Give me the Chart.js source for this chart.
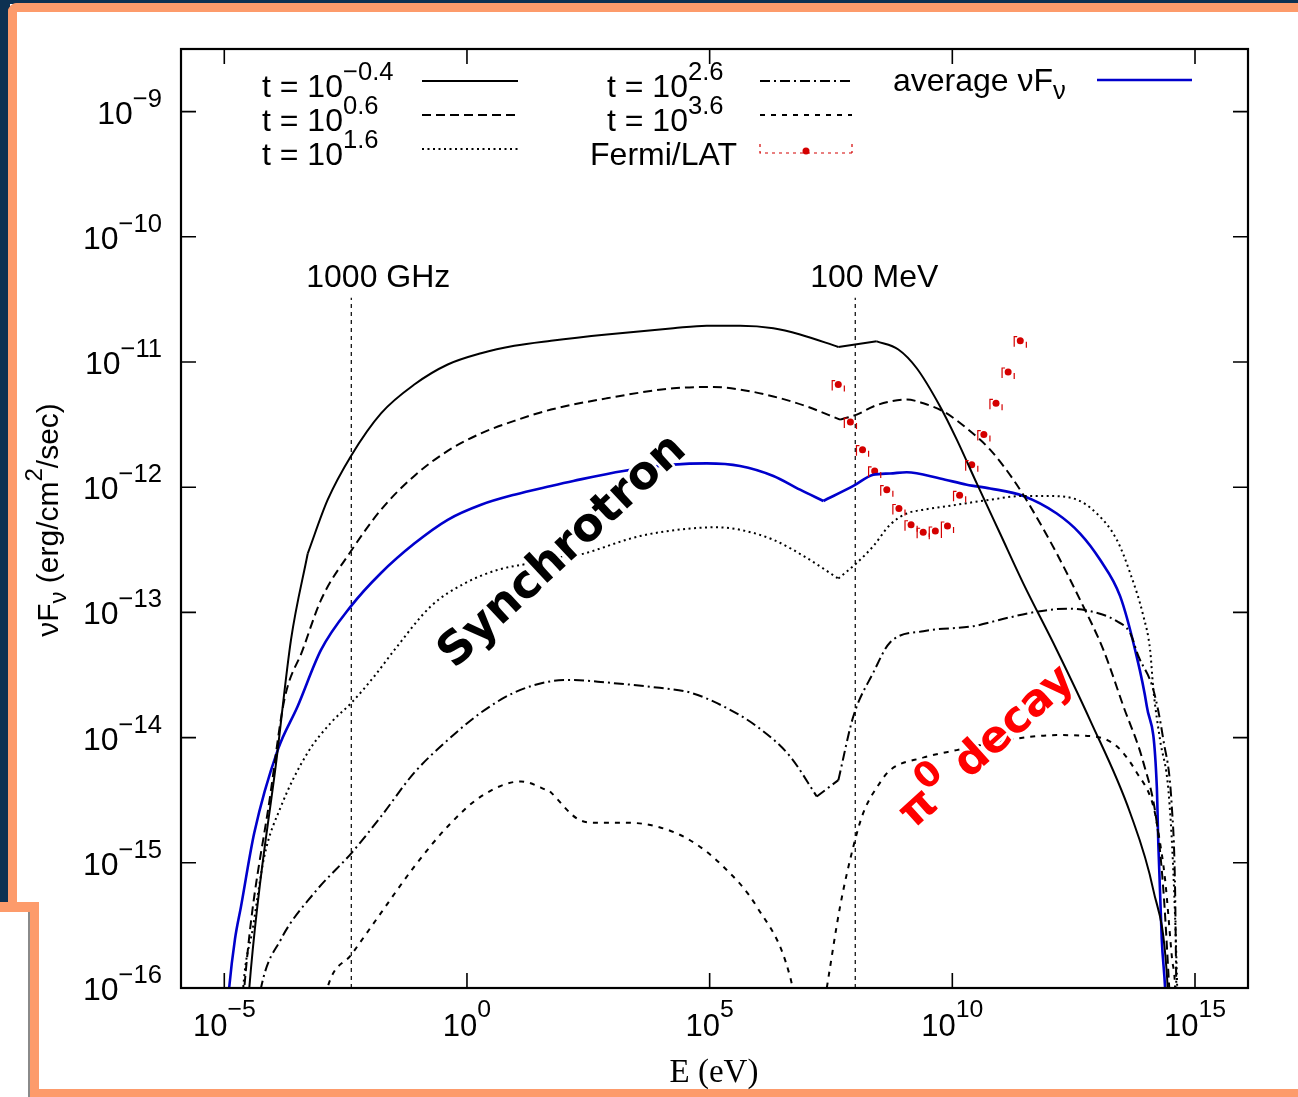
<!DOCTYPE html>
<html lang="en">
<head>
<meta charset="UTF-8" />
<title>nuFnu spectra</title>
<script src="https://cdn.jsdelivr.net/npm/chart.js@4.4.1/dist/chart.umd.min.js"></script>
<style>
    html, body { margin: 0; padding: 0; background: #fff; }
    body { width: 1298px; height: 1097px; position: relative; overflow: hidden; }
    .deco { position: absolute; }
    #sed { position: absolute; left: 0; top: 0; }
</style>
</head>
<body>
    <!-- page frame -->
    <div class="deco" style="left:0;top:0;width:1298px;height:4px;background:#0d3152"></div>
    <div class="deco" style="left:0;top:0;width:10px;height:903px;background:#0d3152"></div>
    <div class="deco" style="left:8px;top:3px;width:1400px;height:899px;border-left:9px solid #fd9b6b;border-top:9px solid #fd9b6b;border-top-left-radius:9px;box-sizing:border-box"></div>
    <div class="deco" style="left:0;top:902px;width:39px;height:10px;background:#fd9b6b;border-top-right-radius:5px"></div>
    <div class="deco" style="left:30px;top:902px;width:9px;height:200px;background:#fd9b6b"></div>
    <div class="deco" style="left:28px;top:912px;width:2px;height:190px;background:#8a8a8a"></div>
    <div class="deco" style="left:30px;top:1089px;width:1300px;height:10px;background:#fd9b6b"></div>

    <canvas id="sed" width="1298" height="1097"></canvas>

<script>
// all curves are [log10(E / eV), log10(nuFnu / erg cm^-2 s^-1)]
const t_m04 = [[-4.55,-16.4],[-4.485,-16.0],[-3.90,-14.10],[-3.626,-13.22],[-3.281,-12.53],[-2.869,-12.10],[-2.389,-11.75],[-1.771,-11.41],[-1.085,-11.18],[-0.397,-11.02],[0.29,-10.93],[0.976,-10.87],[1.732,-10.83],[2.88,-10.78],[4.252,-10.73],[4.94,-10.71],[5.626,-10.71],[6.313,-10.73],[6.863,-10.78],[7.652,-10.88],[8.443,-10.835],[8.888,-10.90],[9.267,-11.05],[9.748,-11.355],[10.092,-11.62],[10.504,-11.97],[10.984,-12.37],[11.464,-12.77],[12.152,-13.30],[12.838,-13.86],[13.663,-14.60],[14.143,-15.22],[14.419,-15.88],[14.47,-16.3]];
const t_06 = [[-4.62,-16.2],[-4.588,-16.0],[-4.038,-14.42],[-3.764,-13.70],[-3.385,-13.30],[-3.007,-12.90],[-2.389,-12.51],[-1.771,-12.18],[-1.085,-11.91],[-0.397,-11.71],[0.29,-11.57],[0.976,-11.47],[1.732,-11.38],[2.88,-11.29],[4.252,-11.21],[5.076,-11.20],[5.626,-11.22],[6.313,-11.275],[7.001,-11.355],[7.687,-11.46],[8.031,-11.42],[8.373,-11.355],[8.717,-11.315],[9.061,-11.30],[9.403,-11.33],[9.816,-11.395],[10.298,-11.53],[10.778,-11.70],[11.258,-11.94],[11.602,-12.15],[12.152,-12.53],[12.633,-12.90],[13.113,-13.30],[13.525,-13.75],[13.937,-14.20],[14.213,-14.68],[14.349,-15.22],[14.452,-15.88],[14.51,-16.3]];
const t_16 = [[-4.65,-16.3],[-4.61,-16.0],[-4.415,-15.53],[-4.176,-14.95],[-3.832,-14.55],[-3.281,-14.12],[-2.801,-13.88],[-2.375,-13.72],[-1.909,-13.51],[-1.495,-13.30],[-0.741,-12.95],[-0.055,-12.77],[0.634,-12.66],[1.32,-12.605],[1.732,-12.565],[2.191,-12.55],[3.566,-12.39],[4.596,-12.33],[5.146,-12.32],[5.626,-12.34],[6.313,-12.42],[7.001,-12.565],[7.652,-12.73],[8.031,-12.605],[8.373,-12.47],[8.717,-12.30],[9.061,-12.21],[9.403,-12.18],[10.092,-12.14],[10.778,-12.10],[11.464,-12.07],[11.946,-12.07],[12.494,-12.09],[12.976,-12.21],[13.389,-12.42],[13.663,-12.685],[13.937,-13.03],[14.075,-13.30],[14.143,-13.62],[14.281,-14.02],[14.452,-14.42],[14.555,-15.08],[14.625,-15.88],[14.65,-16.3]];
const t_26 = [[-4.31,-16.18],[-4.244,-16.0],[-3.832,-15.61],[-3.145,-15.24],[-2.375,-14.92],[-1.771,-14.63],[-1.085,-14.28],[-0.397,-14.02],[0.29,-13.80],[0.976,-13.64],[1.732,-13.55],[2.191,-13.54],[2.88,-13.56],[3.91,-13.60],[4.596,-13.64],[5.282,-13.75],[5.97,-13.91],[6.657,-14.15],[7.207,-14.47],[7.652,-14.34],[7.961,-13.83],[8.373,-13.48],[8.717,-13.24],[9.403,-13.15],[10.434,-13.11],[11.122,-13.045],[11.808,-12.99],[12.358,-12.97],[12.838,-12.99],[13.389,-13.07],[13.663,-13.165],[13.834,-13.35],[14.143,-13.62],[14.349,-14.02],[14.522,-14.55],[14.59,-15.22],[14.611,-15.88],[14.63,-16.3]];
const t_36 = [[-2.95,-16.15],[-2.869,-15.99],[-2.375,-15.73],[-1.771,-15.40],[-1.085,-15.03],[-0.397,-14.71],[0.29,-14.47],[1.114,-14.35],[1.711,-14.43],[2.329,-14.66],[2.674,-14.68],[3.292,-14.68],[3.91,-14.71],[4.596,-14.82],[5.282,-15.03],[5.97,-15.35],[6.657,-15.91],[6.78,-16.17],[7.0,-17.0],[7.337,-16.18],[7.413,-16.0],[7.687,-15.35],[7.961,-14.87],[8.167,-14.60],[8.511,-14.36],[8.717,-14.26],[9.403,-14.16],[10.092,-14.10],[11.122,-14.02],[12.152,-13.98],[12.907,-13.99],[13.389,-14.07],[13.801,-14.28],[14.143,-14.55],[14.246,-14.76],[14.384,-15.135],[14.528,-15.77],[14.59,-16.0],[14.61,-16.3]];
const avgSed = [[-4.934,-16.18],[-4.897,-15.99],[-4.78,-15.61],[-4.656,-15.35],[-4.382,-14.76],[-3.90,-14.10],[-3.488,-13.75],[-3.007,-13.30],[-2.389,-12.95],[-1.771,-12.685],[-1.085,-12.45],[-0.397,-12.26],[0.29,-12.14],[0.976,-12.06],[1.732,-11.99],[2.191,-11.95],[3.222,-11.87],[4.252,-11.82],[4.94,-11.81],[5.626,-11.83],[6.313,-11.91],[6.863,-12.02],[7.343,-12.11],[7.961,-11.99],[8.373,-11.90],[8.717,-11.89],[9.061,-11.88],[9.748,-11.93],[10.298,-11.98],[10.778,-12.01],[11.464,-12.07],[12.152,-12.21],[12.633,-12.37],[13.045,-12.58],[13.457,-12.87],[13.766,-13.30],[14.007,-13.75],[14.213,-14.39],[14.246,-14.87],[14.315,-15.61],[14.384,-16.0],[14.405,-16.2]];

// Fermi/LAT bins
const latLogE = [7.65, 7.90, 8.15, 8.40, 8.65, 8.90, 9.15, 9.40, 9.65, 9.90, 10.15, 10.40, 10.65, 10.90, 11.15, 11.40];
const latLogF = [-11.18, -11.48, -11.70, -11.87, -12.02, -12.17, -12.30, -12.36, -12.35, -12.31, -12.065, -11.82, -11.58, -11.33, -11.08, -10.83];
const latHalfBin = 0.125;

// reference energies: 1000 GHz and 100 MeV
const markerLogE = [-2.3835, 8.0];
const markerLabels = ['1000 GHz', '100 MeV'];
const markerTopLogF = -10.486;

// axes
const xRangeExp = [-5.892, 16.092];
const yRangeExp = [-16, -8.5];
const xTickExp = [-5, 0, 5, 10, 15];
const yTickExp = [-16, -15, -14, -13, -12, -11, -10, -9];

const FONT = "'Liberation Sans', Arial, sans-serif";
const pts = arr => arr.map(([lx, ly]) => ({ x: 10 ** lx, y: 10 ** ly }));

// corners: indices where the spectrum has a sharp break (kept unsmoothed)
const curves = [
    { name: 't_m04', data: t_m04, color: '#000', width: 2, dash: [], corners: [4, 19, 20], label: [['t = 10', ''], ['\u22120.4', '^']] },
    { name: 't_06', data: t_06, color: '#000', width: 2, dash: [9, 5], corners: [19], label: [['t = 10', ''], ['0.6', '^']] },
    { name: 't_16', data: t_16, color: '#000', width: 2, dash: [2, 3.5], corners: [22], label: [['t = 10', ''], ['1.6', '^']] },
    { name: 't_26', data: t_26, color: '#000', width: 2, dash: [10, 4, 2, 4], corners: [18, 19], label: [['t = 10', ''], ['2.6', '^']] },
    { name: 't_36', data: t_36, color: '#000', width: 2, dash: [5, 6], corners: [8], label: [['t = 10', ''], ['3.6', '^']] },
    { name: 'avg', data: avgSed, color: '#0000cc', width: 2.6, dash: [], corners: [22], label: [['average \u03bdF', ''], ['\u03bd', '_']] }
];

const datasets = [];
curves.forEach(c => {
    const cuts = [0, ...c.corners, c.data.length - 1];
    for (let k = 0; k < cuts.length - 1; k++) {
        datasets.push({
            label: c.name,
            data: pts(c.data.slice(cuts[k], cuts[k + 1] + 1)),
            borderColor: c.color,
            borderWidth: c.width,
            borderDash: c.dash,
            pointRadius: 0,
            fill: false,
            cubicInterpolationMode: 'monotone'
        });
    }
});

markerLogE.forEach((lx, i) => {
    datasets.push({
        label: markerLabels[i],
        data: pts([[lx, yRangeExp[0]], [lx, markerTopLogF]]),
        borderColor: '#000',
        borderWidth: 1.2,
        borderDash: [4, 4],
        pointRadius: 0
    });
});

datasets.push({
    label: 'Fermi/LAT',
    data: pts(latLogE.map((lx, i) => [lx, latLogF[i]])),
    showLine: false,
    pointRadius: 3.5,
    pointBackgroundColor: '#d40000',
    pointBorderWidth: 0
});

// text with superscript / subscript runs
function richText(ctx, parts, x, y, size, align, family, raise, halo) {
    family = family || FONT;
    raise = raise || 0.53;
    const runs = parts.map(([txt, mode]) => {
        const s = mode ? size * 0.8 : size;
        const f = family.startsWith('bold') ? family.replace('bold', `bold ${s}px`) : `${s}px ${family}`;
        ctx.font = f;
        return { txt, mode, f, w: ctx.measureText(txt).width };
    });
    const total = runs.reduce((a, r) => a + r.w, 0);
    let cx = align === 'right' ? x - total : align === 'center' ? x - total / 2 : x;
    ctx.textAlign = 'left';
    ctx.textBaseline = 'alphabetic';
    runs.forEach(r => {
        ctx.font = r.f;
        const dy = r.mode === '^' ? -size * raise : r.mode === '_' ? size * 0.25 : 0;
        if (halo) ctx.strokeText(r.txt, cx, y + dy);
        ctx.fillText(r.txt, cx, y + dy);
        cx += r.w;
    });
}

const gnuFrame = {
    id: 'gnuFrame',
    afterDatasetsDraw(chart) {
        const { ctx, chartArea: a, scales: { x, y } } = chart;
        ctx.save();

        // Fermi/LAT bin brackets
        const lat = chart.getDatasetMeta(datasets.length - 1);
        ctx.strokeStyle = '#d40000';
        ctx.lineWidth = 1.2;
        lat.data.forEach((p, i) => {
            const xl = x.getPixelForValue(10 ** (latLogE[i] - latHalfBin));
            const xr = x.getPixelForValue(10 ** (latLogE[i] + latHalfBin));
            ctx.beginPath();
            ctx.moveTo(xl + 3, p.y - 4); ctx.lineTo(xl, p.y - 4); ctx.lineTo(xl, p.y + 6);
            ctx.moveTo(xr, p.y + 1); ctx.lineTo(xr, p.y + 7);
            ctx.stroke();
        });

        // border and inward ticks
        ctx.strokeStyle = '#000';
        ctx.lineWidth = 1.6;
        ctx.beginPath();
        xTickExp.forEach(e => {
            const px = x.getPixelForValue(10 ** e);
            ctx.moveTo(px, a.bottom); ctx.lineTo(px, a.bottom - 15);
            ctx.moveTo(px, a.top); ctx.lineTo(px, a.top + 15);
        });
        yTickExp.forEach(e => {
            const py = y.getPixelForValue(10 ** e);
            ctx.moveTo(a.left, py); ctx.lineTo(a.left + 15, py);
            ctx.moveTo(a.right, py); ctx.lineTo(a.right - 15, py);
        });
        ctx.stroke();
        ctx.lineWidth = 2.2;
        ctx.strokeRect(a.left, a.top, a.right - a.left, a.bottom - a.top);
        ctx.restore();
    },
    afterDraw(chart) {
        const { ctx, chartArea: a, scales: { x, y } } = chart;
        ctx.save();
        ctx.fillStyle = '#000';

        // tick labels
        yTickExp.forEach(e => {
            const py = y.getPixelForValue(10 ** e);
            richText(ctx, [['10', ''], [String(e).replace('-', '\u2212'), '^']], 162, py + 12, 32, 'right');
        });
        xTickExp.forEach(e => {
            const px = x.getPixelForValue(10 ** e);
            richText(ctx, [['10', ''], [String(e).replace('-', '\u2212'), '^']], px, a.bottom + 48, 31, 'center', null, 0.62);
        });

        // axis titles
        ctx.font = "33px 'Liberation Serif', 'Times New Roman', serif";
        ctx.textAlign = 'center';
        ctx.textBaseline = 'alphabetic';
        ctx.fillText('E (eV)', 714, 1082);
        ctx.save();
        ctx.translate(58, 520);
        ctx.rotate(-Math.PI / 2);
        richText(ctx, [['\u03bdF', ''], ['\u03bd', '_'], [' (erg/cm', ''], ['2', '^'], ['/sec)', '']], 0, 0, 30, 'center');
        ctx.restore();

        // reference energy labels
        markerLogE.forEach((lx, i) => {
            const px = x.getPixelForValue(10 ** lx);
            ctx.font = `32px ${FONT}`;
            ctx.textAlign = 'center';
            ctx.fillText(markerLabels[i], px + (i === 0 ? 27 : 19), 287);
        });

        // key
        const sample = (c, x0, x1, yy) => {
            ctx.save();
            ctx.strokeStyle = c.color;
            ctx.lineWidth = c.width;
            ctx.setLineDash(c.dash);
            ctx.beginPath(); ctx.moveTo(x0, yy); ctx.lineTo(x1, yy); ctx.stroke();
            ctx.restore();
        };
        const rows = [97, 131, 165];
        [0, 1, 2].forEach(i => {
            richText(ctx, curves[i].label, 262, rows[i], 32, 'left');
            sample(curves[i], 422, 518, rows[i] - 16);
        });
        [3, 4].forEach((ci, r) => {
            richText(ctx, curves[ci].label, 607, rows[r], 32, 'left');
            sample(curves[ci], 760, 852, rows[r] - 16);
        });
        richText(ctx, [['Fermi/LAT', '']], 737, rows[2], 32, 'right');
        ctx.save();
        ctx.strokeStyle = '#d40000';
        ctx.fillStyle = '#d40000';
        ctx.lineWidth = 1.2;
        const ly = rows[2] - 16;
        ctx.setLineDash([3, 4]);
        ctx.beginPath();
        ctx.moveTo(760, ly - 5); ctx.lineTo(760, ly + 4); ctx.lineTo(852, ly + 4);
        ctx.moveTo(852, ly - 5); ctx.lineTo(852, ly + 4);
        ctx.stroke();
        ctx.setLineDash([]);
        ctx.beginPath(); ctx.arc(806, ly + 2, 3.5, 0, Math.PI * 2); ctx.fill();
        ctx.restore();
        richText(ctx, curves[5].label, 893, 91, 32, 'left');
        sample(curves[5], 1097, 1192, 80);

        // process labels
        ctx.save();
        ctx.translate(563, 552);
        ctx.rotate(-43 * Math.PI / 180);
        ctx.font = "bold 46px 'DejaVu Sans', sans-serif";
        ctx.textAlign = 'center';
        ctx.textBaseline = 'middle';
        ctx.strokeStyle = '#fff';
        ctx.lineWidth = 5;
        ctx.lineJoin = 'round';
        ctx.strokeText('Synchrotron', 0, 0);
        ctx.fillStyle = '#000';
        ctx.fillText('Synchrotron', 0, 0);
        ctx.restore();

        ctx.save();
        ctx.translate(985, 745);
        ctx.rotate(-42 * Math.PI / 180);
        ctx.fillStyle = '#ff0000';
        ctx.strokeStyle = '#fff';
        ctx.lineWidth = 5;
        ctx.lineJoin = 'round';
        richText(ctx, [['\u03c0', ''], ['0', '^'], [' decay', '']], 0, 15, 44, 'center', "bold 'DejaVu Sans', sans-serif", 0.45, true);
        ctx.restore();

        ctx.restore();
    }
};

new Chart(document.getElementById('sed'), {
    type: 'line',
    data: { datasets },
    options: {
        responsive: false,
        animation: false,
        devicePixelRatio: 1,
        layout: { padding: { left: 181, top: 49, right: 50, bottom: 109 } },
        plugins: { legend: { display: false }, tooltip: { enabled: false } },
        scales: {
            x: { type: 'logarithmic', display: false, bounds: 'data', min: 10 ** xRangeExp[0], max: 10 ** xRangeExp[1] },
            y: { type: 'logarithmic', display: false, bounds: 'data', min: 10 ** yRangeExp[0], max: 10 ** yRangeExp[1] }
        }
    },
    plugins: [gnuFrame]
});
</script>
</body>
</html>
